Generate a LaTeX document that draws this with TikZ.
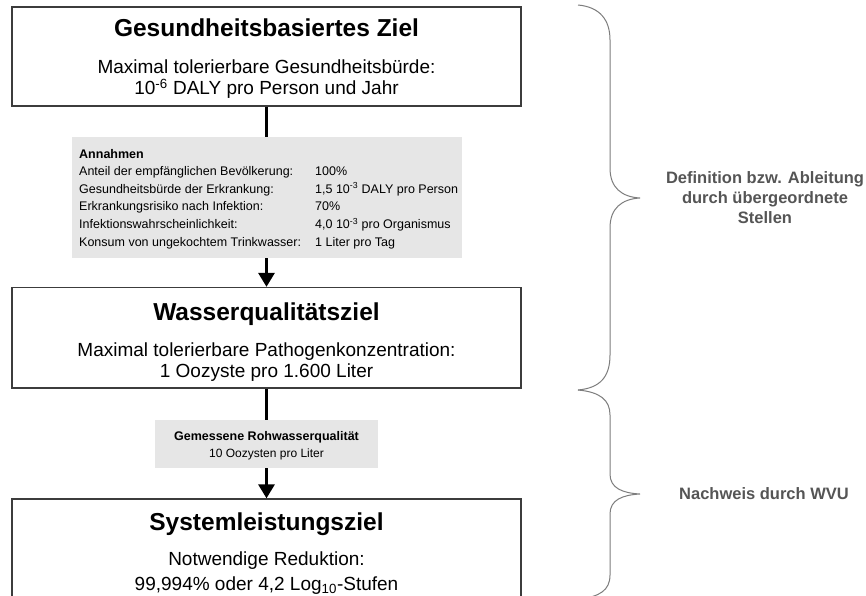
\documentclass[tikz,border=0pt]{standalone}
\usepackage{fontspec}
\setmainfont{Liberation Sans}
\usetikzlibrary{arrows.meta}

\definecolor{rahmen}{RGB}{60,60,60}
\definecolor{annahmegrau}{RGB}{230,230,230}
\definecolor{klammergrau}{RGB}{125,125,125}
\definecolor{textgrau}{RGB}{85,85,85}

\tikzset{
	ziel/.style={draw=rahmen, line width=1.3pt, minimum width=509pt, inner sep=0pt},
	annahme/.style={fill=annahmegrau, inner sep=0pt},
	titel/.style={anchor=base, inner sep=0pt, font=\fontsize{24.5}{29}\selectfont\bfseries},
	unter/.style={anchor=base, inner sep=0pt, font=\fontsize{19}{22}\selectfont},
	klein/.style={anchor=base west, inner sep=0pt, font=\fontsize{12.5}{15}\selectfont},
	fluss/.style={line width=3pt},
	klammer/.style={draw=klammergrau, line width=1pt},
	seite/.style={text=textgrau, align=center, inner sep=0pt, font=\fontsize{16.5}{20}\selectfont\bfseries}
}

\begin{document}
\begin{tikzpicture}[x=1pt, y=-1pt]
	\clip (0,0) rectangle (866,596);
	\fill [white] (0,0) rectangle (866,596);

	\node [ziel, minimum height=99pt] (gz) at (266.5,56.5) {};
	\node [ziel, minimum height=100.5pt] (wz) at (266.5,337.75) {};
	\node [ziel, minimum height=120pt] (sz) at (266.5,559) {};
	\node [annahme, minimum width=390pt, minimum height=121pt] (ann) at (266.5,197.5) {};
	\node [annahme, minimum width=223pt, minimum height=48pt] (roh) at (266.5,444) {};

	\node [titel] (gzT) at (266.5,36.5) {Gesundheitsbasiertes Ziel};
	\node [unter] (gzA) at (266.5,74) {Maximal tolerierbare Gesundheitsbürde:};
	\node [unter] (gzB) at (266.5,95) {10\textsuperscript{-6} DALY pro Person und Jahr};

	\node [titel] (wzT) at (266.5,320) {Wasserqualitätsziel};
	\node [unter] (wzA) at (266.5,356) {Maximal tolerierbare Pathogenkonzentration:};
	\node [unter] (wzB) at (266.5,377) {1 Oozyste pro 1.600 Liter};

	\node [titel] (szT) at (266.5,530.5) {Systemleistungsziel};
	\node [unter] (szA) at (266.5,565) {Notwendige Reduktion:};
	\node [unter] (szB) at (266.5,590) {99,994\% oder 4,2 Log\textsubscript{10}-Stufen};

	\node [klein, font=\fontsize{12.5}{15}\selectfont\bfseries] (annT) at (79,158) {Annahmen};
	\foreach \lab/\val [count=\i] in {{Anteil der empfänglichen Bevölkerung:}/{100\%},
		{Gesundheitsbürde der Erkrankung:}/{1,5 10\textsuperscript{-3} DALY pro Person},
		{Erkrankungsrisiko nach Infektion:}/{70\%},
		{Infektionswahrscheinlichkeit:}/{4,0 10\textsuperscript{-3} pro Organismus},
		{Konsum von ungekochtem Trinkwasser:}/{1 Liter pro Tag}}
	{
		\node [klein] (lab\i) at (79,158+17.6*\i) {\lab};
		\node [klein] (val\i) at (315,158+17.6*\i) {\val};
	}

	\node [klein, anchor=base, font=\fontsize{12.5}{15}\selectfont\bfseries] (rohT) at (266.5,440) {Gemessene Rohwasserqualität};
	\node [klein, anchor=base, font=\fontsize{12}{14}\selectfont] (rohA) at (266.5,457.5) {10 Oozysten pro Liter};

	\draw [fluss] (gz.south) -- (ann.north);
	\draw [fluss] (wz.south) -- (roh.north);
	\begin{scope}[-{Triangle[width=16pt, length=14pt]}]
		\draw [fluss] (ann.south) -- (wz.north);
		\draw [fluss] (roh.south) -- (sz.north);
	\end{scope}

	\draw [klammer] (578,5) .. controls (600,7) and (610,20) .. (610,40) -- (610,168)
		.. controls (610,188) and (622,197) .. (640,198)
		.. controls (622,199) and (610,208) .. (610,228) -- (610,355)
		.. controls (610,377) and (600,388) .. (578,390);
	\draw [klammer] (578,390) .. controls (600,392) and (610,400) .. (610,415) -- (610,474)
		.. controls (610,488) and (622,493) .. (640,494)
		.. controls (622,495) and (610,500) .. (610,514) -- (610,575)
		.. controls (610,590) and (600,597) .. (578,599);

	\node [seite] (def) at (765,198) {Definition bzw. Ableitung\\durch übergeordnete\\Stellen};
	\node [seite] (nach) at (764,494) {Nachweis durch WVU};
\end{tikzpicture}
\end{document}
